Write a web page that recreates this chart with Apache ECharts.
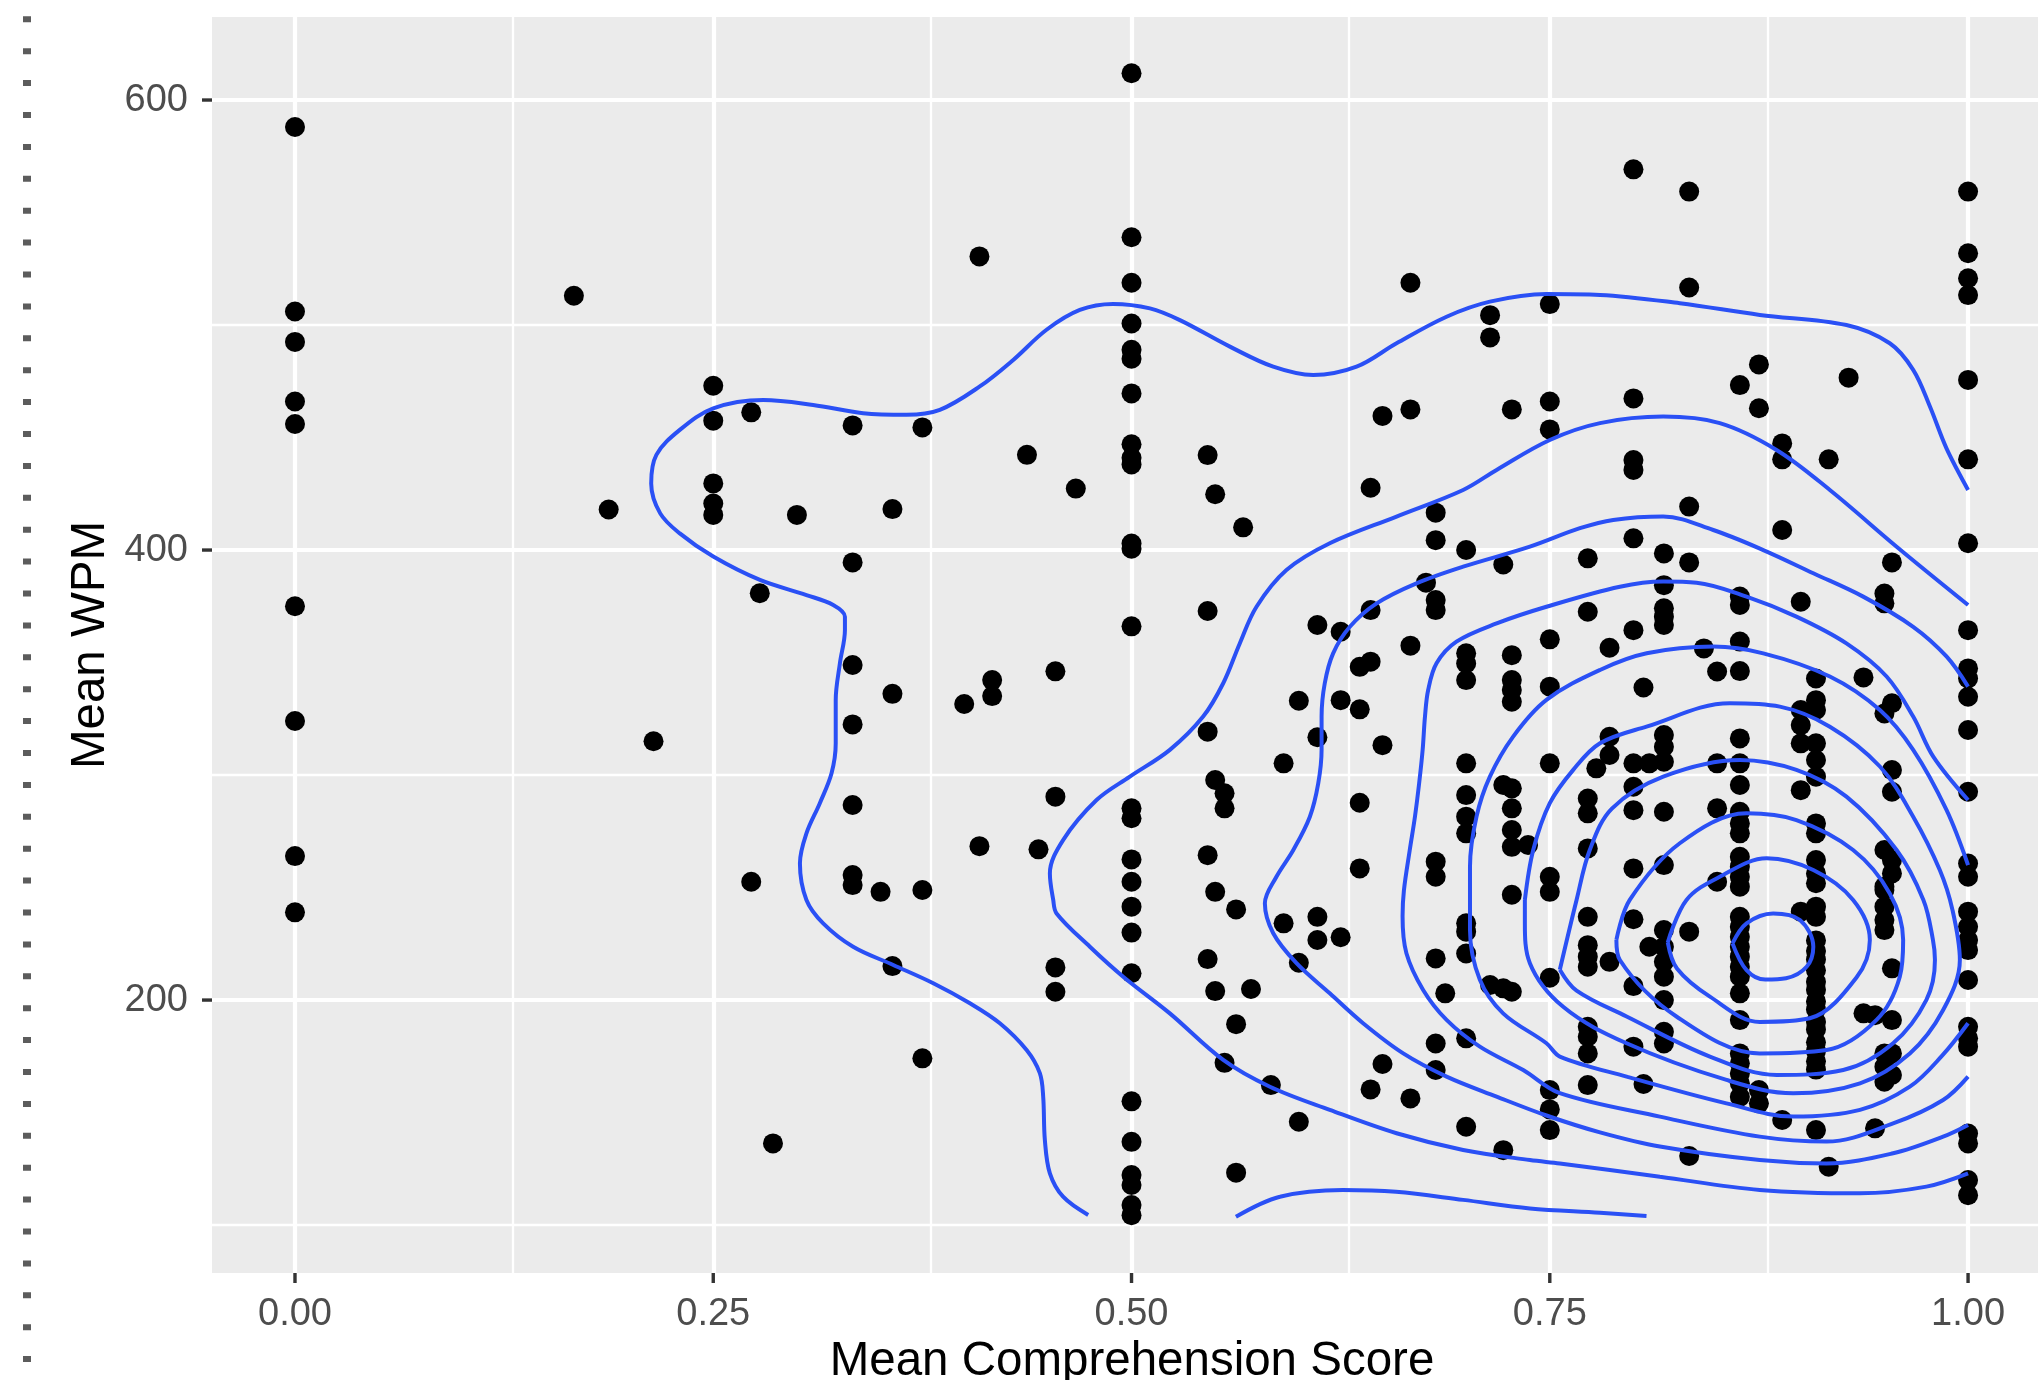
<!DOCTYPE html>
<html><head><meta charset="utf-8">
<script src="https://cdn.jsdelivr.net/npm/echarts@6/dist/echarts.min.js"></script>
<style>html,body{margin:0;padding:0;background:#fff;}#chart{width:2038px;height:1380px;}</style>
</head><body><div id="chart"></div>
<script>
// ---- axes ----
const xTickValues = [0, 0.25, 0.5, 0.75, 1];
const yTickValues = [200, 400, 600];
const xMinorGrid = [0.125, 0.375, 0.625, 0.875];
const yMinorGrid = [100, 300, 500];
const X_MIN = -0.0496, X_MAX = 1.0418, Y_MIN = 78.7, Y_MAX = 636.9;

// ---- scatter points: one WPM list per comprehension-score column ----
const scoreColumns = [0, 0.1667, 0.1875, 0.2143, 0.25, 0.2727, 0.2778, 0.2857, 0.3, 0.3333,
  0.35, 0.3571, 0.375, 0.4, 0.4091, 0.4167, 0.4375, 0.4444, 0.4545, 0.4667,
  0.5, 0.5455, 0.55, 0.5556, 0.5625, 0.5667, 0.5714, 0.5833, 0.5909, 0.6,
  0.6111, 0.625, 0.6364, 0.6429, 0.65, 0.6667, 0.676, 0.6818, 0.6875, 0.7,
  0.7143, 0.7222, 0.7273, 0.737, 0.75, 0.7727, 0.7778, 0.7857, 0.8, 0.806,
  0.8095, 0.8182, 0.8333, 0.8421, 0.85, 0.8636, 0.875, 0.8889, 0.9, 0.9091,
  0.9167, 0.9286, 0.9375, 0.9444, 0.95, 0.9545, 1];
const wpmByColumn = [
  [588, 506, 492.5, 466, 456, 375, 324, 264, 239],
  [513], [418], [315],
  [473, 457.5, 429.6, 420.7, 415.6],
  [461.2, 252.6], [380.8], [136.3], [415.6],
  [455.4, 394.5, 348.9, 322.5, 286.7, 255.6, 251.1],
  [248.1], [418.2, 336.1, 215.1], [454.5, 248.9, 174.1], [331.6],
  [530.5, 268.4], [342.2, 335.1], [442.3], [267],
  [346.1, 290.4, 214.5, 203.7], [427.3],
  [611.9, 539, 518.8, 500.7, 489, 485, 469.6, 447, 441, 438, 402.9, 400.6, 366.1, 285.2, 280.8, 262.5, 252.6, 241.5, 230, 211.9, 155, 137, 122.2, 117.8, 108.9, 104.4],
  [442.2, 372.9, 319.3, 264.4, 218.2],
  [424.8, 297.8, 248.1, 204],
  [291.9, 285.2, 172.1],
  [240.3, 189.3, 123.3],
  [410.1], [204.9], [162.2], [305.2, 234.1], [333, 216.6, 145.9],
  [366.7, 316.8, 237, 226.7],
  [363.7, 333.3, 227.9],
  [348.1, 329.2, 287.7, 258.5],
  [427.7, 373.3, 350.4, 160.3],
  [459.6, 313.3, 171.6],
  [518.8, 462.5, 357.5, 156.3],
  [385.5],
  [416.6, 404.4, 377.8, 373.3, 261.5, 254.8, 218.5, 180.7, 168.9],
  [203],
  [400, 354.1, 349.6, 342.2, 305.2, 291.1, 281.5, 274.1, 234.1, 230.4, 220.7, 183, 143.7],
  [504.4, 494.5, 206.7],
  [393.6, 295.6, 205.2, 133.3],
  [462.5, 353.3, 342.2, 337.8, 332.6, 294.1, 285.2, 275.6, 268.1, 246.8, 203.7],
  [268.9],
  [509.3, 466, 453.6, 360.3, 339.3, 305.2, 254.8, 248.1, 209.9, 160, 151.4, 142.2],
  [396.3, 372.6, 289.6, 283, 267.4, 237, 224.4, 219.3, 214.8, 188.1, 183.7, 176.3, 162.2],
  [303],
  [356.6, 317, 308.9, 217],
  [569.2, 467.4, 440, 435.6, 405.2, 364.4, 305.2, 294.8, 284.4, 258.5, 235.9, 206.2, 179.3],
  [338.9, 162.7],
  [305.2, 223.7],
  [398.5, 384.4, 374.1, 370.4, 366.7, 317.8, 312.6, 305.9, 283.7, 260, 231.1, 223.7, 217, 210.4, 200, 185.9, 180.7],
  [559.3, 516.7, 419.3, 394.5, 230.4, 130.7],
  [356.3],
  [346, 305.2, 285.2, 252.6],
  [473.3, 379.3, 375.6, 359.3, 346.2, 316.3, 305.2, 295.6, 283.7, 278.5, 274.1, 263.7, 259.3, 254.8, 250.4, 237, 232.6, 228.1, 223.7, 219.3, 214.8, 210.4, 203, 191.1, 176.3, 171.9, 167.4, 163, 157],
  [482.5, 463, 160, 154.1],
  [447.4, 440.3, 408.9, 146.7],
  [377, 328.9, 322.2, 314.1, 293.3, 239.3],
  [342.9, 333.3, 328.9, 314.1, 306.7, 299.3, 278.5, 274.1, 262.2, 256.3, 251.9, 241.5, 237, 226.5, 221.8, 218.0, 213.2, 208.1, 204.6, 199.4, 195.8, 190.3, 186.9, 181.2, 177.4, 172.8, 169.1, 142.2],
  [440.3, 125.9],
  [476.6],
  [343.4, 194.1],
  [193.3, 143],
  [380.7, 376.3, 327.4, 266.7, 250.4, 248.9, 241.5, 235.6, 231.1, 176.3, 170.4, 163.7],
  [394.5, 331.9, 302.2, 292.6, 262.2, 256.3, 214.1, 191.1, 176.3, 166.7],
  [559.3, 531.9, 520.8, 513.3, 475.6, 440.3, 403, 364.4, 347.4, 342.9, 334.8, 320, 292.6, 260.7, 254.8, 239.3, 232.6, 226.7, 222.2, 208.9, 188.1, 183, 179.3, 140.7, 136.3, 120, 113.3]
];

// ---- 2D density contour lines (score, WPM) ----
const contour1a = [[0.4741,104.5],[0.4591,112.6],[0.4512,123.0],[0.4482,137.8],[0.4472,157.1],[0.4452,167.5],[0.4373,177.8],[0.4213,189.7],[0.4034,198.6],[0.3815,207.5],[0.3576,215.6],[0.3336,223.7],[0.3157,234.1],[0.3057,244.5],[0.3018,260.8],[0.3057,274.1],[0.3137,287.5],[0.3207,300.8],[0.3232,314.1],[0.3232,333.4],[0.3257,349.7],[0.3287,364.5],[0.3287,370.4],[0.3217,375.6],[0.3057,380.0],[0.2779,386.7],[0.2500,397.1],[0.2300,407.4],[0.2183,416.3],[0.2129,429.6],[0.2160,442.3],[0.2300,453.4],[0.2500,463.0],[0.2799,466.7],[0.3097,464.5],[0.3396,460.8],[0.3655,460.1],[0.3854,462.3],[0.4093,472.7],[0.4293,484.5],[0.4492,497.9],[0.4691,506.7],[0.4890,509.4],[0.5110,507.4],[0.5289,502.2],[0.5588,490.4],[0.5847,481.5],[0.6086,477.8],[0.6345,481.5],[0.6584,491.9],[0.6883,503.7],[0.7142,510.4],[0.7480,513.8],[0.7800,513.4],[0.8277,509.7],[0.8755,504.5],[0.9273,500.0],[0.9532,491.9],[0.9672,480.1],[0.9772,463.8],[0.9871,445.2],[1.0,426.7]];
const contour1b = [[0.5624,103.7],[0.5887,112.6],[0.6263,115.6],[0.6581,114.8],[0.6982,111.2],[0.7381,107.4],[0.7800,105.5],[0.8078,104.0]];
const contour2 = [[1.0,375.6],[0.9573,401.5],[0.9174,426.7],[0.8855,444.5],[0.8516,456.4],[0.8178,459.3],[0.7800,456.4],[0.7500,448.9],[0.7182,435.6],[0.6982,426.7],[0.6584,414.9],[0.6185,403.0],[0.5926,391.1],[0.5747,374.8],[0.5647,358.5],[0.5548,340.8],[0.5428,326.0],[0.5229,311.2],[0.4990,299.3],[0.4791,288.9],[0.4591,271.1],[0.4512,256.3],[0.4532,244.5],[0.4552,238.5],[0.4751,223.7],[0.4950,210.4],[0.5229,194.1],[0.5548,173.4],[0.5827,161.5],[0.6185,151.2],[0.6584,140.8],[0.6982,133.4],[0.7381,128.9],[0.7560,127.4],[0.8158,121.5],[0.8755,115.6],[0.9354,114.1],[0.9751,117.1],[1.0,123.0]];
const contour3 = [[1.0,339.3],[0.9871,352.7],[0.9672,365.9],[0.9373,379.3],[0.9075,389.7],[0.8776,400.0],[0.8477,408.9],[0.8178,414.9],[0.7879,413.4],[0.7680,409.7],[0.7381,401.5],[0.6982,392.6],[0.6703,385.2],[0.6465,376.3],[0.6305,365.9],[0.6205,354.1],[0.6155,340.8],[0.6136,326.0],[0.6136,311.2],[0.6116,296.3],[0.6066,281.5],[0.5967,266.7],[0.5866,254.8],[0.5797,243.0],[0.5847,229.7],[0.5986,216.4],[0.6185,203.0],[0.6384,189.7],[0.6624,176.3],[0.6883,166.0],[0.7182,157.1],[0.7480,148.7],[0.7800,141.2],[0.8158,134.9],[0.8755,128.9],[0.9154,127.4],[0.9552,131.9],[0.9851,139.3],[1.0,144.5]];
const contour4 = [[1.0,288.9],[0.9792,308.2],[0.9672,326.0],[0.9513,343.8],[0.9273,358.5],[0.8974,370.4],[0.8676,379.3],[0.8377,385.5],[0.8178,386.0],[0.7919,383.7],[0.7480,374.8],[0.7182,367.4],[0.6942,359.3],[0.6823,349.7],[0.6773,337.8],[0.6754,326.0],[0.6740,311.2],[0.6719,296.3],[0.6694,281.5],[0.6663,266.7],[0.6628,248.7],[0.6620,237.2],[0.6643,220.8],[0.6743,204.5],[0.6883,191.2],[0.7082,179.3],[0.7341,168.9],[0.7560,158.6],[0.8158,148.2],[0.8755,139.3],[0.9154,137.1],[0.9552,145.2],[0.9851,155.6],[1.0,166.0]];
const contour5 = [[1.0,260.0],[0.9871,284.5],[0.9672,311.2],[0.9473,328.9],[0.9174,343.8],[0.8776,354.1],[0.8477,357.1],[0.8079,354.1],[0.7800,346.7],[0.7480,333.4],[0.7281,317.1],[0.7142,299.3],[0.7062,281.5],[0.7023,259.3],[0.7023,231.1],[0.7082,209.0],[0.7221,194.1],[0.7480,180.8],[0.7560,174.9],[0.7959,166.0],[0.8556,154.1],[0.8955,148.2],[0.9354,151.2],[0.9652,161.5],[0.9845,175.3],[1.0,189.7]];
const contour6 = [[0.7351,244.5],[0.7401,266.7],[0.7500,287.5],[0.7640,302.3],[0.7800,314.1],[0.8078,321.5],[0.8576,331.9],[0.8875,330.4],[0.9174,321.5],[0.9473,303.8],[0.9672,281.5],[0.9831,257.8],[0.9907,240.0],[0.9951,217.8],[0.9851,195.6],[0.9652,176.3],[0.9354,163.0],[0.8955,158.6],[0.8556,164.5],[0.7959,180.8],[0.7580,197.0],[0.7381,216.4],[0.7351,234.3],[0.7351,244.5]];
const contour7 = [[0.7560,213.5],[0.7660,244.5],[0.7739,266.7],[0.7871,285.1],[0.8178,299.3],[0.8636,306.7],[0.8974,302.3],[0.9273,290.4],[0.9573,266.7],[0.9733,244.5],[0.9790,226.8],[0.9802,217.8],[0.9751,200.1],[0.9552,180.8],[0.9254,168.9],[0.8856,166.7],[0.8457,174.9],[0.7959,192.7],[0.7660,204.2],[0.7560,213.5]];
const contour8 = [[0.7898,226.7],[0.7978,244.5],[0.8277,269.7],[0.8676,283.0],[0.8974,280.0],[0.9313,266.7],[0.9532,247.4],[0.9612,226.7],[0.9592,210.4],[0.9453,191.2],[0.9154,177.8],[0.8755,176.3],[0.8257,192.7],[0.7919,217.8],[0.7898,226.7]];
const contour9 = [[0.8205,225.6],[0.8317,244.5],[0.8516,254.8],[0.8796,263.0],[0.9075,257.8],[0.9313,244.5],[0.9413,226.7],[0.9333,210.0],[0.9054,191.9],[0.8755,190.3],[0.8457,201.5],[0.8260,214.0],[0.8205,225.6]];
const contour10 = [[0.8592,225.2],[0.8676,234.1],[0.8835,238.5],[0.8995,235.6],[0.9075,223.7],[0.9035,214.8],[0.8912,209.7],[0.8788,209.1],[0.8676,213.3],[0.8592,225.2]];

const contours = [contour1a, contour1b, contour2, contour3, contour4, contour5, contour6, contour7, contour8, contour9, contour10];

const points = [];
scoreColumns.forEach((s, i) => wpmByColumn[i].forEach(w => points.push([s, w])));

const FONT = '"Liberation Sans", Arial, Helvetica, sans-serif';
const gridLines = [];
xTickValues.forEach(v => gridLines.push({xAxis: v, lineStyle: {width: 4.2}}));
xMinorGrid.forEach(v => gridLines.push({xAxis: v, lineStyle: {width: 2.3}}));
yTickValues.forEach(v => gridLines.push({yAxis: v, lineStyle: {width: 4.2}}));
yMinorGrid.forEach(v => gridLines.push({yAxis: v, lineStyle: {width: 2.3}}));

const TICK_LEN = 10;
const tickStyle = {stroke: '#333333', lineWidth: 3.4};

const chart = echarts.init(document.getElementById('chart'), null, {renderer: 'canvas'});
const series = [{
  type: 'scatter', z: 3, data: points, symbol: 'circle', symbolSize: 20,
  itemStyle: {color: '#000000', opacity: 1}, silent: true,
  markLine: {
    z: 1, silent: true, symbol: ['none', 'none'], label: {show: false},
    lineStyle: {color: '#FFFFFF', type: 'solid', opacity: 1}, emphasis: {disabled: true},
    data: gridLines
  }
}, {
  // x-axis tick marks, placed through the axis scale
  type: 'custom', z: 5, silent: true, clip: false,
  data: xTickValues.map(v => [v, Y_MIN]),
  renderItem: (params, api) => {
    const p = api.coord([api.value(0), api.value(1)]);
    return {type: 'line', shape: {x1: p[0], y1: p[1], x2: p[0], y2: p[1] + TICK_LEN}, style: tickStyle};
  }
}, {
  // y-axis tick marks
  type: 'custom', z: 5, silent: true, clip: false,
  data: yTickValues.map(v => [X_MIN, v]),
  renderItem: (params, api) => {
    const p = api.coord([api.value(0), api.value(1)]);
    return {type: 'line', shape: {x1: p[0] - TICK_LEN, y1: p[1], x2: p[0], y2: p[1]}, style: tickStyle};
  }
}];
contours.forEach(c => series.push({
  type: 'line', z: 4, data: c, showSymbol: false, smooth: 0.35, silent: true,
  lineStyle: {color: '#2A50F5', width: 4}
}));

chart.setOption({
  animation: false,
  backgroundColor: '#FFFFFF',
  grid: {left: 212, top: 17, right: 0, bottom: 107, show: true, backgroundColor: '#EBEBEB', borderWidth: 0},
  xAxis: {
    type: 'value', min: X_MIN, max: X_MAX,
    axisLine: {show: false}, splitLine: {show: false}, axisTick: {show: false},
    axisLabel: {show: true, customValues: xTickValues, margin: 23, fontSize: 38, color: '#4D4D4D', fontFamily: FONT,
      formatter: v => v.toFixed(2)}
  },
  yAxis: {
    type: 'value', min: Y_MIN, max: Y_MAX,
    axisLine: {show: false}, splitLine: {show: false}, axisTick: {show: false},
    axisLabel: {show: true, customValues: yTickValues, margin: 24, fontSize: 38, color: '#4D4D4D', fontFamily: FONT}
  },
  graphic: [
    {type: 'line', silent: true, shape: {x1: 27, y1: 16.3, x2: 27, y2: 1380},
      style: {stroke: '#5c5c5c', lineWidth: 8, lineDash: [6, 25.9]}},
    {type: 'text', silent: true, x: 1132, y: 1362,
      style: {text: 'Mean Comprehension Score', font: '47.5px ' + FONT, fill: '#000000', textAlign: 'center', textVerticalAlign: 'middle'}},
    {type: 'text', silent: true, x: 91, y: 645, rotation: Math.PI / 2,
      style: {text: 'Mean WPM', font: '47.5px ' + FONT, fill: '#000000', textAlign: 'center', textVerticalAlign: 'middle'}}
  ],
  series: series
});
</script></body></html>
